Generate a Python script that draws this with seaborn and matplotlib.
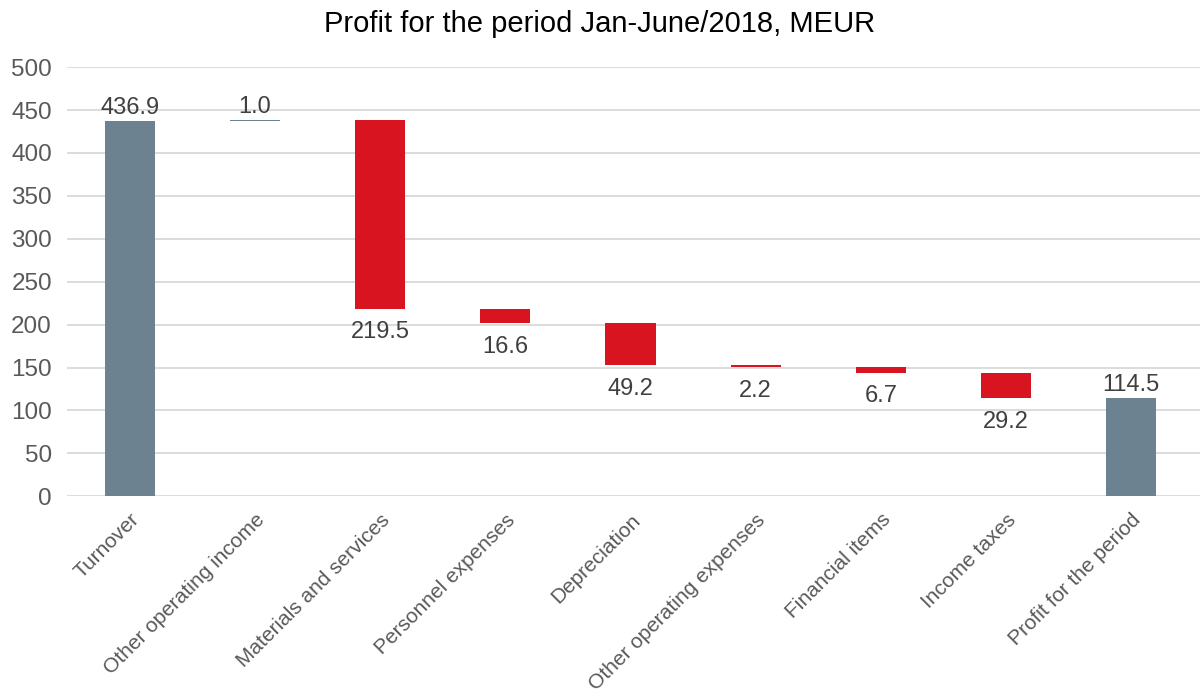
import matplotlib
matplotlib.use("Agg")
import matplotlib.pyplot as plt
import seaborn as sns
import numpy as np
import pandas as pd

# waterfall data, MEUR
categories = ["Turnover", "Other operating income", "Materials and services",
              "Personnel expenses", "Depreciation", "Other operating expenses",
              "Financial items", "Income taxes", "Profit for the period"]
changes = [436.9, 1.0, -219.5, -16.6, -49.2, -2.2, -6.7, -29.2, 114.5]
kinds = ["total", "up", "down", "down", "down", "down", "down", "down", "total"]

gray = "#6c8290"
red = "#d7141f"

# running bottoms / heights
bottoms, heights = [], []
level = 0.0
for v, k in zip(changes, kinds):
    if k == "total":
        bottoms.append(0.0)
        heights.append(v)
        level = v
    elif v >= 0:
        bottoms.append(level)
        heights.append(v)
        level += v
    else:
        bottoms.append(level + v)
        heights.append(-v)
        level += v

df = pd.DataFrame({"cat": categories, "h": heights, "b": bottoms, "kind": kinds})
colors = [red if k == "down" else gray for k in kinds]

sns.set_style("white")
plt.rcParams["font.family"] = ["Liberation Sans", "DejaVu Sans"]

fig = plt.figure(figsize=(12, 6.99), dpi=100)
ax = fig.add_axes([0.056, 0.29, 0.944, 0.614])

sns.barplot(data=df, x="cat", y="h", color=gray, bottom=df["b"].values,
            width=0.4, order=categories, ax=ax, saturation=1, linewidth=0,
            zorder=3)
for patch, c in zip(ax.patches, colors):
    patch.set_facecolor(c)

ax.set_ylim(0, 500)
ax.set_xlim(-0.5, len(categories) - 0.45)
ax.set_yticks(np.arange(0, 501, 50))
ax.grid(axis="y", color="#d9d9d9", linewidth=1.3, zorder=0)
ax.set_axisbelow(True)
for s in ax.spines.values():
    s.set_visible(False)
ax.set_xlabel("")
ax.set_ylabel("")
ax.tick_params(axis="y", length=0, labelsize=17.5, labelcolor="#595959", pad=11)
ax.tick_params(axis="x", length=0, labelsize=15, labelcolor="#595959", pad=10)
plt.setp(ax.get_xticklabels(), rotation=45, ha="right", rotation_mode="anchor")

# value labels
for i, (v, k, b, h) in enumerate(zip(changes, kinds, bottoms, heights)):
    txt = f"{abs(v):.1f}"
    if k == "down":
        ax.annotate(txt, (i, b), xytext=(0, -9), textcoords="offset points",
                    ha="center", va="top", fontsize=17, color="#404040")
    else:
        ax.annotate(txt, (i, b + h), xytext=(0, 1.5), textcoords="offset points",
                    ha="center", va="bottom", fontsize=17, color="#404040")

fig.suptitle("Profit for the period Jan-June/2018, MEUR", fontsize=21, y=0.985, color="black")

fig.savefig("out.png", dpi=100)
